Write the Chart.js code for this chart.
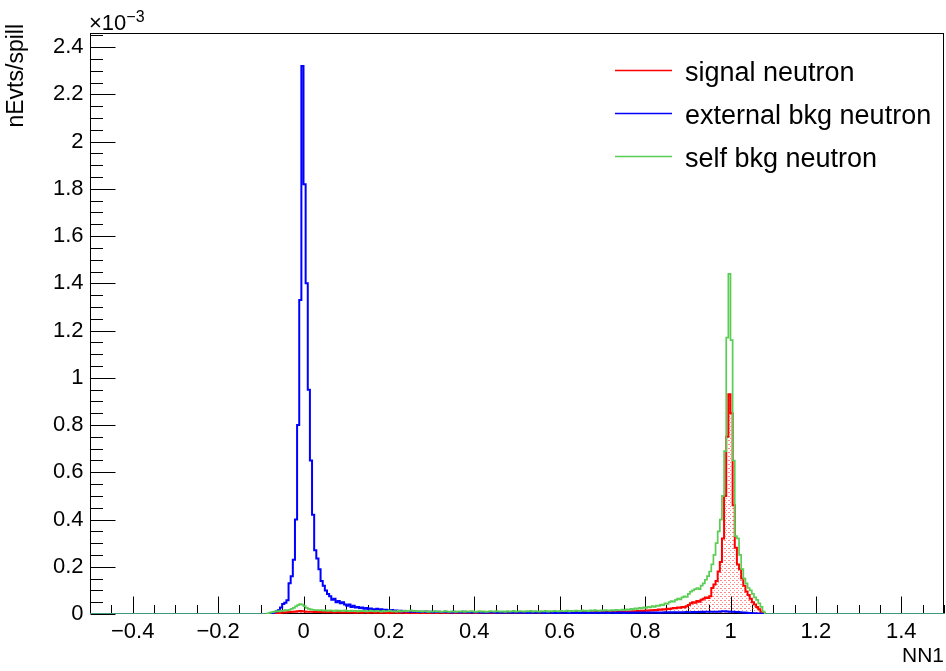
<!DOCTYPE html>
<html>
<head>
<meta charset="utf-8">
<script src="https://cdn.jsdelivr.net/npm/chart.js@4.4.1/dist/chart.umd.min.js"></script>
<style>
  html, body { margin: 0; padding: 0; background: #fff; }
  canvas { display: block; }
</style>
</head>
<body>
<canvas id="nnChart" width="946" height="671"></canvas>
<script>
// Histogram binning (values in units of 1e-3 nEvts/spill)
const xMin = -0.5, xMax = 1.5;
const yMax = 2.46;
const binStart = -0.09;   // left edge of first listed bin
const binWidth = 0.005;

// signal neutron (red, hatched)
const signalNeutron = [
  0, 0, 0, 0, 0.002, 0.003, 0.004, 0.005, 0.006, 0.006,
  0.007, 0.008, 0.009, 0.01, 0.011, 0.012, 0.013, 0.012, 0.011, 0.01,
  0.01, 0.009, 0.009, 0.008, 0.009, 0.008, 0.008, 0.007, 0.008, 0.007,
  0.008, 0.007, 0.006, 0.007, 0.008, 0.006, 0.007, 0.006, 0.007, 0.006,
  0.007, 0.006, 0.005, 0.007, 0.006, 0.005, 0.006, 0.007, 0.005, 0.006,
  0.006, 0.005, 0.006, 0.005, 0.007, 0.005, 0.006, 0.004, 0.006, 0.005,
  0.005, 0.006, 0.004, 0.005, 0.006, 0.005, 0.004, 0.006, 0.005, 0.004,
  0.005, 0.004, 0.006, 0.005, 0.004, 0.005, 0.006, 0.004, 0.005, 0.005,
  0.004, 0.005, 0.006, 0.004, 0.005, 0.004, 0.006, 0.005, 0.004, 0.005,
  0.005, 0.004, 0.005, 0.006, 0.004, 0.005, 0.005, 0.006, 0.004, 0.005,
  0.006, 0.005, 0.004, 0.006, 0.005, 0.006, 0.004, 0.005, 0.006, 0.005,
  0.005, 0.006, 0.005, 0.007, 0.005, 0.006, 0.005, 0.006, 0.007, 0.005,
  0.006, 0.005, 0.007, 0.006, 0.005, 0.007, 0.006, 0.007, 0.005, 0.006,
  0.007, 0.006, 0.005, 0.007, 0.006, 0.008, 0.006, 0.007, 0.006, 0.008,
  0.007, 0.006, 0.008, 0.007, 0.006, 0.008, 0.007, 0.008, 0.006, 0.008,
  0.007, 0.008, 0.007, 0.009, 0.007, 0.008, 0.009, 0.007, 0.009, 0.008,
  0.009, 0.008, 0.01, 0.009, 0.008, 0.01, 0.009, 0.011, 0.01, 0.009,
  0.011, 0.01, 0.012, 0.011, 0.013, 0.012, 0.014, 0.013, 0.015, 0.014,
  0.016, 0.015, 0.017, 0.016, 0.019, 0.018, 0.02, 0.019, 0.022, 0.021,
  0.023, 0.025, 0.024, 0.027, 0.026, 0.03, 0.029, 0.033, 0.038, 0.045,
  0.05, 0.048, 0.055, 0.052, 0.06, 0.065, 0.07, 0.068, 0.075, 0.11,
  0.125, 0.14, 0.18, 0.22, 0.32, 0.5, 0.75, 0.93, 0.85, 0.46,
  0.28, 0.21, 0.19, 0.15, 0.12, 0.095, 0.08, 0.065, 0.05, 0.04,
  0.03, 0.02, 0.01, 0.004
];

// external bkg neutron (blue)
const externalBkg = [
  0, 0, 0.002, 0.004, 0.008, 0.012, 0.016, 0.028, 0.042, 0.048,
  0.058, 0.13, 0.16, 0.23, 0.4, 0.8, 1.33, 2.32, 1.82, 1.4,
  0.95, 0.65, 0.42, 0.27, 0.235, 0.19, 0.14, 0.12, 0.1, 0.085,
  0.075, 0.06, 0.065, 0.05, 0.055, 0.045, 0.05, 0.04, 0.035, 0.04,
  0.03, 0.035, 0.028, 0.03, 0.025, 0.027, 0.022, 0.025, 0.02, 0.023,
  0.02, 0.018, 0.022, 0.017, 0.02, 0.015, 0.018, 0.016, 0.014, 0.017,
  0.013, 0.015, 0.012, 0.014, 0.011, 0.013, 0.012, 0.01, 0.012, 0.009,
  0.011, 0.01, 0.008, 0.01, 0.009, 0.011, 0.008, 0.009, 0.007, 0.01,
  0.008, 0.009, 0.007, 0.008, 0.01, 0.007, 0.008, 0.006, 0.009, 0.007,
  0.008, 0.006, 0.007, 0.009, 0.006, 0.008, 0.007, 0.006, 0.008, 0.007,
  0.006, 0.008, 0.005, 0.007, 0.006, 0.008, 0.006, 0.007, 0.005, 0.007,
  0.006, 0.005, 0.007, 0.006, 0.008, 0.005, 0.006, 0.007, 0.005, 0.006,
  0.007, 0.005, 0.006, 0.004, 0.007, 0.006, 0.005, 0.007, 0.006, 0.005,
  0.006, 0.004, 0.006, 0.005, 0.007, 0.005, 0.004, 0.006, 0.005, 0.006,
  0.005, 0.006, 0.004, 0.005, 0.006, 0.004, 0.006, 0.005, 0.004, 0.006,
  0.005, 0.004, 0.006, 0.005, 0.004, 0.005, 0.006, 0.004, 0.005, 0.006,
  0.004, 0.005, 0.006, 0.005, 0.004, 0.006, 0.005, 0.006, 0.004, 0.005,
  0.006, 0.005, 0.004, 0.006, 0.005, 0.006, 0.005, 0.006, 0.005, 0.006,
  0.006, 0.005, 0.006, 0.006, 0.005, 0.006, 0.006, 0.007, 0.006, 0.007,
  0.006, 0.007, 0.007, 0.006, 0.007, 0.007, 0.007, 0.008, 0.007, 0.007,
  0.008, 0.007, 0.008, 0.008, 0.009, 0.008, 0.009, 0.009, 0.01, 0.009,
  0.01, 0.009, 0.01, 0.011, 0.012, 0.012, 0.011, 0.01, 0.009, 0.009,
  0.008, 0.008, 0.007, 0.006, 0.006, 0.005, 0.004, 0.004, 0.003, 0.003,
  0.002, 0.002, 0.001, 0
];

// self bkg neutron (green)
const selfBkg = [
  0, 0.003, 0.006, 0.008, 0.01, 0.012, 0.011, 0.014, 0.013, 0.016,
  0.015, 0.018, 0.022, 0.026, 0.032, 0.038, 0.042, 0.04, 0.033, 0.026,
  0.022, 0.02, 0.018, 0.016, 0.017, 0.015, 0.016, 0.014, 0.015, 0.013,
  0.015, 0.014, 0.012, 0.015, 0.013, 0.014, 0.012, 0.015, 0.013, 0.012,
  0.014, 0.012, 0.013, 0.011, 0.014, 0.012, 0.013, 0.011, 0.012, 0.014,
  0.012, 0.011, 0.013, 0.012, 0.01, 0.013, 0.011, 0.012, 0.014, 0.011,
  0.012, 0.01, 0.013, 0.011, 0.012, 0.014, 0.012, 0.013, 0.015, 0.012,
  0.013, 0.011, 0.012, 0.01, 0.012, 0.011, 0.009, 0.011, 0.01, 0.012,
  0.01, 0.011, 0.009, 0.01, 0.012, 0.01, 0.009, 0.011, 0.01, 0.009,
  0.011, 0.01, 0.012, 0.009, 0.011, 0.01, 0.012, 0.011, 0.009, 0.01,
  0.012, 0.01, 0.011, 0.009, 0.01, 0.012, 0.011, 0.01, 0.012, 0.011,
  0.01, 0.011, 0.009, 0.012, 0.01, 0.011, 0.013, 0.01, 0.011, 0.012,
  0.011, 0.01, 0.012, 0.011, 0.013, 0.01, 0.012, 0.011, 0.01, 0.012,
  0.011, 0.013, 0.01, 0.012, 0.011, 0.013, 0.012, 0.011, 0.013, 0.012,
  0.012, 0.014, 0.011, 0.013, 0.012, 0.014, 0.013, 0.012, 0.015, 0.013,
  0.014, 0.012, 0.015, 0.013, 0.016, 0.014, 0.013, 0.015, 0.014, 0.016,
  0.015, 0.014, 0.017, 0.015, 0.018, 0.016, 0.017, 0.019, 0.016, 0.02,
  0.018, 0.022, 0.02, 0.024, 0.022, 0.026, 0.024, 0.028, 0.026, 0.03,
  0.028, 0.033, 0.03, 0.036, 0.034, 0.04, 0.038, 0.045, 0.043, 0.05,
  0.055, 0.052, 0.06, 0.065, 0.062, 0.07, 0.075, 0.072, 0.085, 0.095,
  0.1, 0.105, 0.11, 0.105, 0.12, 0.13, 0.145, 0.16, 0.18, 0.21,
  0.25, 0.3, 0.35, 0.4, 0.5, 0.69, 1.17, 1.44, 1.16, 0.65,
  0.33, 0.32, 0.25, 0.19, 0.15, 0.13, 0.11, 0.1, 0.085, 0.07,
  0.06, 0.045, 0.03, 0.01
];

const xTickValues = [-0.4, -0.2, 0, 0.2, 0.4, 0.6, 0.8, 1, 1.2, 1.4];
const xTickLabels = ['\u22120.4', '\u22120.2', '0', '0.2', '0.4', '0.6', '0.8', '1', '1.2', '1.4'];
const yTickValues = [0, 0.2, 0.4, 0.6, 0.8, 1, 1.2, 1.4, 1.6, 1.8, 2, 2.2, 2.4];
const yTickLabels = ['0', '0.2', '0.4', '0.6', '0.8', '1', '1.2', '1.4', '1.6', '1.8', '2', '2.2', '2.4'];

const legendItems = [
  { text: 'signal neutron', color: '#ff0000' },
  { text: 'external bkg neutron', color: '#0000ff' },
  { text: 'self bkg neutron', color: 'rgb(90,205,85)' }
];

const FONT = '"Liberation Sans", Arial, Helvetica, sans-serif';

// turn bin contents into step points (left edges) running over the whole axis
function toSteps(values) {
  const pts = [{ x: xMin, y: 0 }];
  values.forEach((v, i) => pts.push({ x: binStart + i * binWidth, y: v }));
  pts.push({ x: binStart + values.length * binWidth, y: 0 });
  pts.push({ x: xMax, y: 0 });
  return pts;
}

// light red dotted hatch like ROOT fill style
function makeHatch() {
  const c = document.createElement('canvas');
  c.width = 4; c.height = 4;
  const g = c.getContext('2d');
  g.fillStyle = 'rgba(255,60,60,0.6)';
  g.fillRect(0, 0, 2, 1);
  g.fillRect(2, 2, 1, 1);
  return g.createPattern(c, 'repeat');
}

// frame, inward ticks and labels drawn ROOT-style
const rootFrame = {
  id: 'rootFrame',
  beforeDatasetsDraw(chart) {
    const { ctx, chartArea: a, scales: { x, y } } = chart;
    const L = Math.round(a.left) + 0.5, R = Math.round(a.right) - 0.5;
    const T = Math.round(a.top) + 0.5, B = Math.round(a.bottom) - 0.5;
    ctx.save();
    ctx.strokeStyle = '#000';
    ctx.lineWidth = 1;
    ctx.strokeRect(L, T, R - L, B - T);

    ctx.beginPath();
    for (let v = -0.5; v <= 1.5001; v += 0.05) {
      const px = Math.round(x.getPixelForValue(v)) + 0.5;
      const major = Math.abs(v / 0.2 - Math.round(v / 0.2)) < 1e-6;
      ctx.moveTo(px, B);
      ctx.lineTo(px, B - (major ? 17 : 8.5));
    }
    for (let v = 0; v <= yMax; v += 0.05) {
      const py = Math.round(y.getPixelForValue(v)) + 0.5;
      const major = Math.abs(v / 0.2 - Math.round(v / 0.2)) < 1e-6;
      ctx.moveTo(L, py);
      ctx.lineTo(L + (major ? 25 : 12.5), py);
    }
    ctx.stroke();
    ctx.restore();
  },
  afterDraw(chart) {
    const { ctx, chartArea: a, scales: { x, y } } = chart;
    ctx.save();
    ctx.fillStyle = '#000';

    ctx.font = '22px ' + FONT;
    ctx.textAlign = 'center';
    ctx.textBaseline = 'alphabetic';
    xTickValues.forEach((v, i) => ctx.fillText(xTickLabels[i], x.getPixelForValue(v), 637.5));

    ctx.textAlign = 'right';
    ctx.textBaseline = 'middle';
    yTickValues.forEach((v, i) => ctx.fillText(yTickLabels[i], 83.5, y.getPixelForValue(v)));

    // exponent
    ctx.textAlign = 'left';
    ctx.textBaseline = 'alphabetic';
    ctx.fillText('\u00d710', 89, 30);
    const w = ctx.measureText('\u00d710').width;
    ctx.font = '16px ' + FONT;
    ctx.fillText('\u22123', 89 + w, 22);

    // axis titles
    ctx.font = '21px ' + FONT;
    ctx.textAlign = 'right';
    ctx.fillText('NN1', a.right, 662);

    ctx.font = '23px ' + FONT;
    ctx.save();
    ctx.translate(23, 24);
    ctx.rotate(-Math.PI / 2);
    ctx.textAlign = 'right';
    ctx.fillText('nEvts/spill', 0, 0);
    ctx.restore();

    // legend
    ctx.font = '27px ' + FONT;
    ctx.textAlign = 'left';
    legendItems.forEach((it, i) => {
      const ly = 70.5 + i * 43;
      ctx.strokeStyle = it.color;
      ctx.lineWidth = 1.3;
      ctx.beginPath();
      ctx.moveTo(615, ly);
      ctx.lineTo(672, ly);
      ctx.stroke();
      ctx.fillText(it.text, 685, ly + 10);
    });
    ctx.restore();
  }
};

const ctx = document.getElementById('nnChart').getContext('2d');
new Chart(ctx, {
  type: 'scatter',
  data: {
    datasets: [
      { label: 'self bkg neutron', data: toSteps(selfBkg), showLine: true, stepped: 'before',
        borderColor: 'rgb(90,205,85)', borderWidth: 1.7, pointRadius: 0, fill: false },
      { label: 'external bkg neutron', data: toSteps(externalBkg), showLine: true, stepped: 'before',
        borderColor: '#0000ff', borderWidth: 2, pointRadius: 0, fill: false },
      { label: 'signal neutron', data: toSteps(signalNeutron), showLine: true, stepped: 'before',
        borderColor: '#ff0000', borderWidth: 2, pointRadius: 0, fill: 'origin', backgroundColor: makeHatch() }
    ]
  },
  options: {
    responsive: false,
    animation: false,
    devicePixelRatio: 1,
    layout: { padding: { left: 90, right: 2, top: 33, bottom: 57 } },
    scales: {
      x: { type: 'linear', min: xMin, max: xMax, display: false },
      y: { type: 'linear', min: 0, max: yMax, display: false }
    },
    plugins: { legend: { display: false }, tooltip: { enabled: false } }
  },
  plugins: [rootFrame]
});
</script>
</body>
</html>
